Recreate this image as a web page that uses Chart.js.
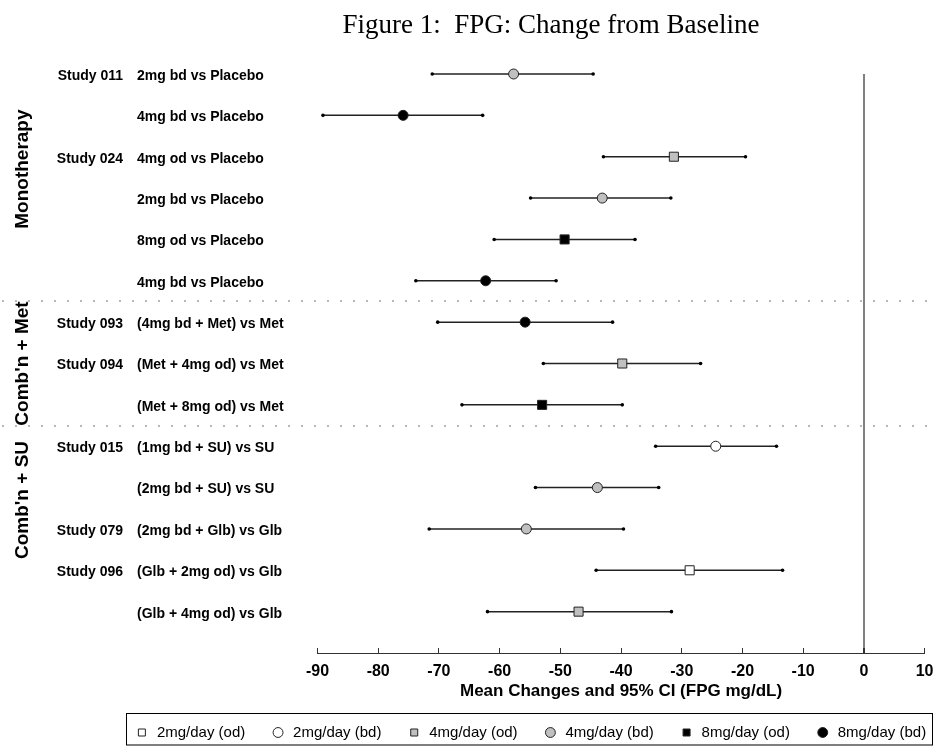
<!DOCTYPE html>
<html>
<head>
<meta charset="utf-8">
<title>Figure 1: FPG: Change from Baseline</title>
<script src="https://cdn.jsdelivr.net/npm/chart.js@4.4.0/dist/chart.umd.min.js"></script>
<style>
    html, body { margin: 0; padding: 0; background: #fff; overflow: hidden; }
    #wrap { position: relative; width: 934px; height: 746px; }
</style>
</head>
<body>
<div id="wrap"><canvas id="fpg_chart"></canvas></div>
<script>
// rows of the forest plot, top to bottom
const studies = ['Study 011', '', 'Study 024', '', '', '', 'Study 093', 'Study 094', '', 'Study 015', '', 'Study 079', 'Study 096', ''];
const comparisons = [
    '2mg bd vs Placebo', '4mg bd vs Placebo', '4mg od vs Placebo', '2mg bd vs Placebo',
    '8mg od vs Placebo', '4mg bd vs Placebo', '(4mg bd + Met) vs Met', '(Met + 4mg od) vs Met',
    '(Met + 8mg od) vs Met', '(1mg bd + SU) vs SU', '(2mg bd + SU) vs SU', '(2mg bd + Glb) vs Glb',
    '(Glb + 2mg od) vs Glb', '(Glb + 4mg od) vs Glb'
];
const meanChange = [-57.7, -75.9, -31.3, -43.1, -49.3, -62.3, -55.8, -39.8, -53.0, -24.4, -43.9, -55.6, -28.7, -47.0];
const ciLower = [-71.1, -89.1, -42.9, -54.9, -60.9, -73.8, -70.2, -52.8, -66.2, -34.3, -54.1, -71.6, -44.1, -62.0];
const ciUpper = [-44.6, -62.8, -19.5, -31.8, -37.7, -50.7, -41.4, -26.9, -39.8, -14.4, -33.8, -39.6, -13.4, -31.7];
// which daily dose each row belongs to (index into doseNames)
const doseOfRow = [3, 5, 2, 3, 4, 5, 5, 2, 4, 1, 3, 3, 0, 2];
const doseNames = ['2mg/day (od)', '2mg/day (bd)', '4mg/day (od)', '4mg/day (bd)', '8mg/day (od)', '8mg/day (bd)'];
// therapy groups and how many rows each one has
const groupNames = ['Monotherapy', "Comb'n + Met", "Comb'n + SU"];
const groupSizes = [6, 3, 5];
const xTickValues = [-90, -80, -70, -60, -50, -40, -30, -20, -10, 0, 10];

const SANS = "'Liberation Sans', Arial, Helvetica, sans-serif";

class ForestWidget {
    constructor() {
        this.canvas = null;
        this.chart = null;
        //marker look for each dose, same order as doseNames
        this.markers = [
            { shape: 'rect', fill: '#ffffff', radius: 6.4 },
            { shape: 'circle', fill: '#ffffff', radius: 5 },
            { shape: 'rect', fill: '#c0c0c0', radius: 6.4 },
            { shape: 'circle', fill: '#c0c0c0', radius: 5 },
            { shape: 'rect', fill: '#000000', radius: 6.4 },
            { shape: 'circle', fill: '#000000', radius: 5 }
        ];
    }

    getDatasets() {
        //one dataset per dose so the legend gets one entry each
        return doseNames.map((name, d) => {
            let points = [];
            meanChange.forEach((value, row) => {
                if (doseOfRow[row] == d) {
                    points.push({ x: value, y: row });
                }
            });
            let m = this.markers[d];
            return {
                label: name,
                data: points,
                clip: false,
                pointStyle: m.shape,
                backgroundColor: m.fill,
                borderColor: '#222',
                borderWidth: 1,
                pointRadius: m.radius,
                pointHoverRadius: m.radius
            };
        });
    }

    //confidence intervals drawn under the markers
    errorBarPlugin() {
        return {
            id: 'errorBars',
            beforeDatasetsDraw(chart) {
                const { ctx } = chart;
                const x = chart.scales.x;
                const y = chart.scales.y;
                ctx.save();
                meanChange.forEach((m, row) => {
                    let py = y.getPixelForValue(row);
                    let x1 = x.getPixelForValue(ciLower[row]);
                    let x2 = x.getPixelForValue(ciUpper[row]);
                    ctx.strokeStyle = '#222';
                    ctx.lineWidth = 1.5;
                    ctx.beginPath();
                    ctx.moveTo(x1, py);
                    ctx.lineTo(x2, py);
                    ctx.stroke();
                    ctx.fillStyle = '#000';
                    [x1, x2].forEach(px => {
                        ctx.beginPath();
                        ctx.arc(px, py, 1.8, 0, Math.PI * 2);
                        ctx.fill();
                    });
                });
                ctx.restore();
            }
        };
    }

    //row labels, group labels, separators, title and legend frame
    decorPlugin() {
        return {
            id: 'decor',
            afterDraw(chart, args, opts) {
                const { ctx, width, height } = chart;
                const y = chart.scales.y;
                ctx.save();

                //dotted lines between the groups
                ctx.strokeStyle = '#b8b8b8';
                ctx.lineWidth = 2;
                ctx.setLineDash([2, 11]);
                let start = 0;
                groupSizes.slice(0, -1).forEach(size => {
                    start += size;
                    let py = Math.round(y.getPixelForValue(start - 0.5));
                    ctx.beginPath();
                    ctx.moveTo(2, py);
                    ctx.lineTo(width, py);
                    ctx.stroke();
                });
                ctx.setLineDash([]);

                //study and comparison text
                ctx.fillStyle = '#000';
                ctx.font = 'bold 14px ' + SANS;
                ctx.textBaseline = 'middle';
                comparisons.forEach((text, row) => {
                    let py = y.getPixelForValue(row) + 2;
                    ctx.textAlign = 'right';
                    ctx.fillText(studies[row], 123, py);
                    ctx.textAlign = 'left';
                    ctx.fillText(text, 137, py);
                });

                //rotated group names
                ctx.font = 'bold 19px ' + SANS;
                ctx.textAlign = 'center';
                groupNames.forEach((name, g) => {
                    ctx.save();
                    ctx.translate(23, y.getPixelForValue(opts.groupAnchors[g]));
                    ctx.rotate(-Math.PI / 2);
                    ctx.fillText(name, 0, 0);
                    ctx.restore();
                });

                //figure title
                ctx.font = "27px 'Liberation Serif', 'Times New Roman', serif";
                ctx.textBaseline = 'alphabetic';
                ctx.fillText('Figure 1:  FPG: Change from Baseline', 551, 33);

                //frame round the legend
                let boxes = chart.legend.legendHitBoxes;
                if (boxes && boxes.length) {
                    let first = boxes[0];
                    let last = boxes[boxes.length - 1];
                    let left = Math.round(first.left - 8) + 0.5;
                    let right = Math.min(Math.round(last.left + last.width + 6), width - 2) + 0.5;
                    let top = Math.round(first.top - 12) + 0.5;
                    ctx.strokeStyle = '#000';
                    ctx.lineWidth = 1;
                    ctx.strokeRect(left, top, right - left, height - 1 - top);
                }
                ctx.restore();
            }
        };
    }

    //Start the widget, initialize graph
    start() {
        this.canvas = document.querySelector('#fpg_chart').getContext('2d');
        this.chart = new Chart(this.canvas, {
            type: 'scatter',
            data: { datasets: this.getDatasets() },
            plugins: [this.errorBarPlugin(), this.decorPlugin()],
            options: {
                responsive: true,
                maintainAspectRatio: false,
                animation: false,
                layout: { padding: { top: 74, left: 96.5, right: -30, bottom: -4 } },
                scales: {
                    x: {
                        type: 'linear',
                        min: -90,
                        max: 10,
                        afterBuildTicks: scale => {
                            scale.ticks = xTickValues.map(v => ({ value: v }));
                        },
                        afterFit: scale => {
                            scale.height = 46.7;
                            //room for the "10" label only, not the tick padding
                            scale.paddingRight = 9.4;
                        },
                        grid: {
                            //only the zero line is shown
                            color: c => (c.tick && c.tick.value === 0) ? '#808080' : 'rgba(0,0,0,0)',
                            lineWidth: c => (c.tick && c.tick.value === 0) ? 2 : 1,
                            drawTicks: true,
                            tickLength: -5,
                            tickColor: '#333'
                        },
                        border: { display: true, color: '#333', width: 1 },
                        ticks: {
                            color: '#000',
                            padding: 14,
                            maxRotation: 0,
                            font: { family: SANS, size: 16, weight: 'bold' }
                        },
                        title: {
                            display: true,
                            text: 'Mean Changes and 95% CI (FPG mg/dL)',
                            color: '#000',
                            padding: { top: 0, bottom: -1.5 },
                            font: { family: SANS, size: 17, weight: 'bold' }
                        }
                    },
                    y: {
                        type: 'linear',
                        reverse: true,
                        min: 0,
                        max: 14,
                        afterFit: scale => { scale.width = 221; },
                        grid: { display: false },
                        border: { display: false },
                        ticks: { display: false }
                    }
                },
                plugins: {
                    title: { display: false },
                    tooltip: { enabled: false },
                    decor: { groupAnchors: [2.3, 7, 10.3] },
                    legend: {
                        position: 'bottom',
                        labels: {
                            usePointStyle: true,
                            boxWidth: 15,
                            boxHeight: 7,
                            padding: 25.3,
                            color: '#000',
                            font: { family: SANS, size: 15 }
                        }
                    }
                }
            }
        });
    }
}

let widget = new ForestWidget();
widget.start();
</script>
</body>
</html>
